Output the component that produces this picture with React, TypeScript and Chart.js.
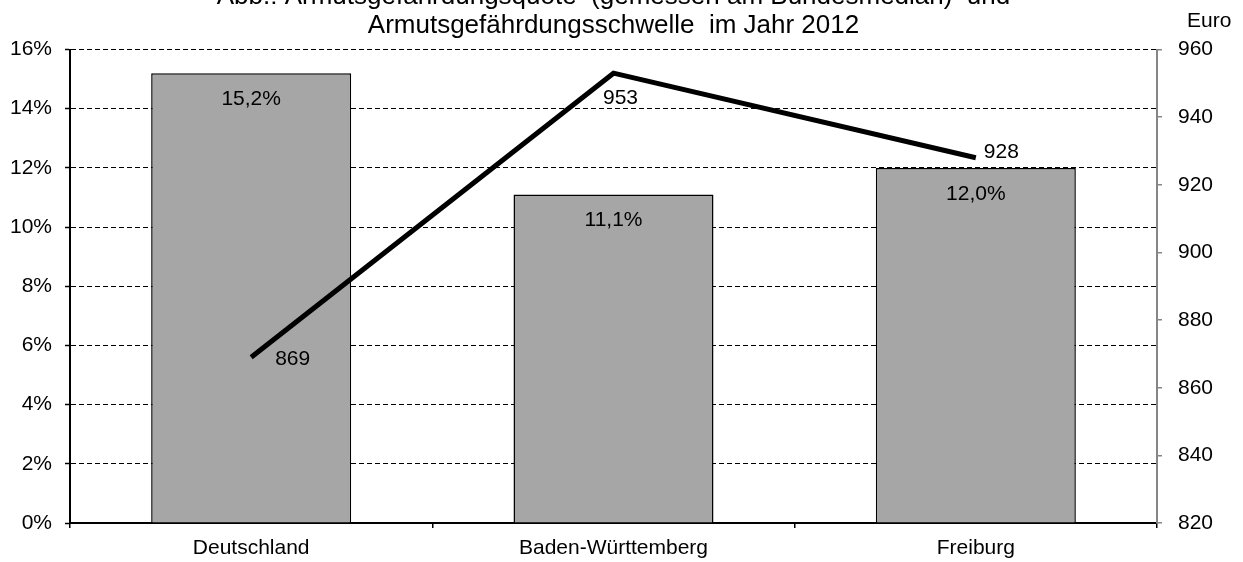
import React, { useEffect, useRef } from "react";
import { Chart, registerables } from "chart.js";

Chart.register(...registerables);

const categories = ["Deutschland", "Baden-Württemberg", "Freiburg"];
const quoteValues = [15.2, 11.1, 12.0];
const schwelleValues = [869, 953, 928];
const titleLines = [
  "Abb.: Armutsgefährdungsquote  (gemessen am Bundesmedian)  und",
  "Armutsgefährdungsschwelle  im Jahr 2012",
];
const rightAxisTitle = "Euro";

const FONT = "'Liberation Sans', Arial, sans-serif";

const fmtPct = (v: number) => v.toFixed(1).replace(".", ",") + "%";

const labelPlugin = {
  id: "customLabels",
  afterDatasetsDraw(chart: any) {
    const ctx = chart.ctx;
    ctx.save();
    ctx.fillStyle = "#000";
    ctx.font = `21px ${FONT}`;
    ctx.textBaseline = "middle";
    const barMeta = chart.getDatasetMeta(0);
    barMeta.data.forEach((el: any, i: number) => {
      ctx.textAlign = "center";
      ctx.fillText(fmtPct(quoteValues[i]), el.x, el.y + 26);
    });
    const lineMeta = chart.getDatasetMeta(1);
    const offsets = [
      { dx: 24, dy: 2, align: "left" },
      { dx: 7, dy: 25, align: "center" },
      { dx: 8, dy: -6, align: "left" },
    ];
    lineMeta.data.forEach((el: any, i: number) => {
      const o = offsets[i];
      ctx.textAlign = o.align;
      ctx.fillText(String(schwelleValues[i]), el.x + o.dx, el.y + o.dy);
    });
    ctx.restore();
  },
  afterDraw(chart: any) {
    const ctx = chart.ctx;
    const area = chart.chartArea;
    ctx.save();
    ctx.fillStyle = "#000";
    ctx.textBaseline = "alphabetic";
    ctx.textAlign = "center";
    ctx.font = `26px ${FONT}`;
    const cx = (area.left + area.right) / 2;
    ctx.fillText(titleLines[0], cx, 4);
    ctx.fillText(titleLines[1], cx, 33);
    ctx.textAlign = "left";
    ctx.font = `21px ${FONT}`;
    ctx.fillText(rightAxisTitle, area.right + 30, 27);
    ctx.restore();
  },
};

export default function App() {
  const ref = useRef<HTMLCanvasElement | null>(null);
  useEffect(() => {
    if (!ref.current) return;
    const chart = new Chart(ref.current, {
      type: "bar",
      data: {
        labels: categories,
        datasets: [
          {
            type: "bar",
            label: "Armutsgefährdungsquote",
            data: quoteValues,
            yAxisID: "y",
            backgroundColor: "#a6a6a6",
            borderColor: "#000",
            borderWidth: 1.5,
            barPercentage: 0.552,
            categoryPercentage: 1,
            order: 2,
          },
          {
            type: "line",
            label: "Armutsgefährdungsschwelle",
            data: schwelleValues,
            yAxisID: "y1",
            borderColor: "#000",
            borderWidth: 5,
            pointRadius: 0,
            fill: false,
            tension: 0,
            borderJoinStyle: "miter",
            order: 1,
          } as any,
        ],
      },
      options: {
        responsive: false,
        animation: false,
        layout: { padding: { top: 49.5, left: 0, right: 0, bottom: 0 } },
        plugins: {
          legend: { display: false },
          title: { display: false },
          tooltip: { enabled: false },
        },
        scales: {
          x: {
            offset: true,
            grid: {
              offset: true,
              drawOnChartArea: false,
              drawTicks: true,
              tickLength: 5,
              color: "#000",
              lineWidth: 1.5,
            },
            border: { display: true, color: "#000", width: 2 },
            ticks: {
              color: "#000",
              font: { family: FONT, size: 21 },
              padding: 8,
              maxRotation: 0,
            },
            afterFit: (s: any) => {
              s.height = 562 - 523;
            },
          },
          y: {
            position: "left",
            min: 0,
            max: 16,
            ticks: {
              stepSize: 2,
              color: "#000",
              font: { family: FONT, size: 21 },
              padding: 13,
              callback: (v: any) => v + "%",
            },
            grid: {
              color: "#000",
              lineWidth: 1,
              drawTicks: true,
              tickLength: 5,
              tickColor: "#000",
              tickWidth: 1.5,
              tickBorderDash: [],
            },
            border: { display: true, color: "#000", width: 2, dash: [5, 3] },
            afterFit: (s: any) => {
              s.width = 70;
            },
          },
          y1: {
            position: "right",
            min: 820,
            max: 960,
            ticks: {
              stepSize: 20,
              color: "#000",
              font: { family: FONT, size: 21 },
              padding: 16,
            },
            grid: {
              drawOnChartArea: false,
              drawTicks: true,
              tickLength: 5,
              color: "#868686",
              lineWidth: 1.5,
            },
            border: { display: true, color: "#868686", width: 2 },
            afterFit: (s: any) => {
              s.width = 1243 - 1157;
            },
          },
        },
      },
      plugins: [labelPlugin],
    });
    return () => chart.destroy();
  }, []);
  return (
    <div style={{ position: "absolute", left: 0, top: 0, width: 1243, height: 562, background: "#fff" }}>
      <canvas ref={ref} width={1243} height={562} style={{ display: "block" }} />
    </div>
  );
}
